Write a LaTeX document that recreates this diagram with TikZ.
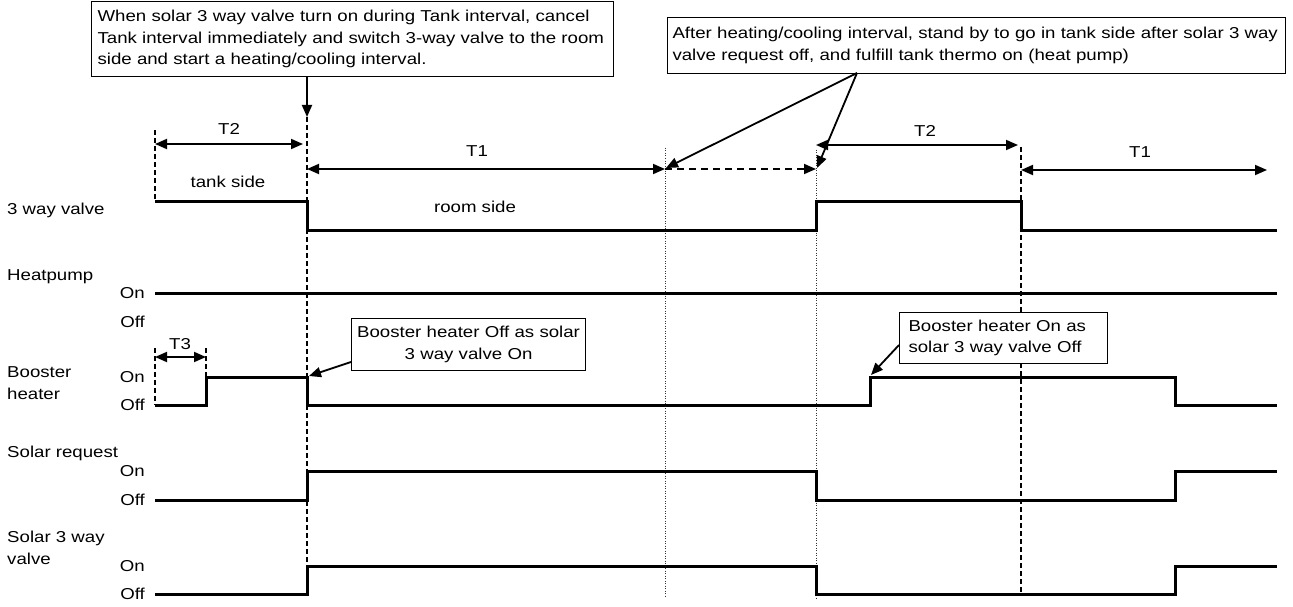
\documentclass[tikz,border=0pt]{standalone}
\usepackage{fontspec}
\setmainfont{Liberation Sans}[FakeStretch=1.18]
\usetikzlibrary{arrows.meta}
\begin{document}
\begin{tikzpicture}[x=1pt,y=-1pt,
  every node/.style={font=\fontsize{15.8}{21.5}\selectfont, inner sep=0pt},
  sig/.style={line width=3pt, line join=miter},
  tip/.style={-{Triangle[length=12pt,width=10pt]}},
  dim/.style={line width=1.8pt, {Triangle[length=12pt,width=10pt]}-{Triangle[length=12pt,width=10pt]}},
  arr/.style={line width=1.8pt, tip},
  note/.style={draw, line width=1.1pt, fill=white, inner xsep=6pt, inner ysep=3pt, anchor=north west},
  guide/.style={line width=1.2pt, dash pattern=on 5pt off 3pt},
  dotline/.style={line width=1pt, dash pattern=on 1pt off 1.5pt, black!80},
  lbl/.style={anchor=west, align=left},
  lvl/.style={anchor=east}]
\useasboundingbox (0,0) rectangle (1293,607);
\fill[white] (0,0) rectangle (1293,607);

% vertical guides
\draw[guide] (155,130) -- (155,201);
\draw[guide] (307,117) -- (307,566);
\draw[dotline] (665,148) -- (665,598);
\draw[dotline] (816,150) -- (816,600);
\draw[guide] (1021,147) -- (1021,594);
\draw[guide] (155,348) -- (155,405);
\draw[guide] (206,348) -- (206,377);

% row labels
\node (lValve) [lbl] at (7,210) {3 way valve};
\node (lHP) [lbl] at (7,277) {Heatpump};
\node (lBH) [lbl] at (7,383) {Booster\\heater};
\node (lSR) [lbl] at (7,453) {Solar request};
\node (lS3) [lbl] at (7,548) {Solar 3 way\\valve};
\node (hpOn) [lvl] at (145,293) {On};
\node (hpOff) [lvl] at (145,322) {Off};
\node (bhOn) [lvl] at (145,377) {On};
\node (bhOff) [lvl] at (145,405) {Off};
\node (srOn) [lvl] at (145,471) {On};
\node (srOff) [lvl] at (145,500) {Off};
\node (s3On) [lvl] at (145,566) {On};
\node (s3Off) [lvl] at (145,594) {Off};

% signals
\draw[sig] (155,201) -- (307,201) -- (307,230) -- (816,230) -- (816,201) -- (1021,201) -- (1021,230) -- (1277,230);
\draw[sig] (155,293) -- (1277,293);
\draw[sig] (155,405) -- (206,405) -- (206,377) -- (307,377) -- (307,405) -- (870,405) -- (870,377) -- (1175,377) -- (1175,405) -- (1277,405);
\draw[sig] (155,500) -- (307,500) -- (307,471) -- (816,471) -- (816,500) -- (1175,500) -- (1175,471) -- (1277,471);
\draw[sig] (155,594) -- (307,594) -- (307,566) -- (816,566) -- (816,594) -- (1175,594) -- (1175,566) -- (1277,566);

% interval dimensions
\coordinate (a0) at (155,144);
\coordinate (a1) at (303,144);
\draw[dim] (a0) -- (a1);
\node (t2a) at (229,129) {T2};
\node (tank) at (228,182) {tank side};
\coordinate (b0) at (307,169);
\coordinate (b1) at (665,169);
\draw[dim] (b0) -- (b1);
\node (t1a) at (477,151) {T1};
\node (room) at (475,207) {room side};
\coordinate (c1) at (816,169);
\draw[line width=1.8pt, dash pattern=on 7pt off 5pt, tip] (b1) -- (c1);
\coordinate (d0) at (816,145);
\coordinate (d1) at (1018,145);
\draw[dim] (d0) -- (d1);
\node (t2b) at (925,131) {T2};
\coordinate (e0) at (1021,170);
\coordinate (e1) at (1267,170);
\draw[dim] (e0) -- (e1);
\node (t1b) at (1140,152) {T1};
\coordinate (f0) at (155,357);
\coordinate (f1) at (206,357);
\draw[dim] (f0) -- (f1);
\node (t3) at (180,344) {T3};

% notes
\node (boxA) [note, text width=510pt, minimum height=75pt, align=left] at (91,1)
  {\mbox{When solar 3 way valve turn on during Tank interval, cancel}\\\mbox{Tank interval immediately and switch 3-way valve to the room}\\\mbox{side and start a heating/cooling interval.}};
\coordinate (pA) at (307,117);
\draw[arr] (boxA.south -| pA) -- (pA);

\node (boxB) [note, text width=608pt, minimum height=56pt, align=left, inner xsep=5pt] at (667,17)
  {\mbox{After heating/cooling interval, stand by to go in tank side after solar 3 way}\\\mbox{valve request off, and fulfill tank thermo on (heat pump)}};
\coordinate (srcB) at (857,73);
\coordinate (pB1) at (666,168);
\coordinate (pB2) at (817,168);
\draw[arr] (srcB) -- (pB1);
\draw[arr] (srcB) -- (pB2);

\node (boxC) [note, text width=232pt, minimum height=52pt, align=center, inner xsep=1pt] at (351,318)
  {\mbox{Booster heater Off as solar}\\\mbox{3 way valve On}};
\coordinate (srcC) at (351,362);
\coordinate (pC) at (309,376);
\draw[arr] (srcC) -- (pC);

\node (boxD) [note, text width=190pt, minimum height=51pt, align=left, inner xsep=9pt] at (899,312)
  {\mbox{Booster heater On as}\\\mbox{solar 3 way valve Off}};
\coordinate (srcD) at (899,345);
\coordinate (pD) at (871,375);
\draw[arr] (srcD) -- (pD);
\end{tikzpicture}
\end{document}
